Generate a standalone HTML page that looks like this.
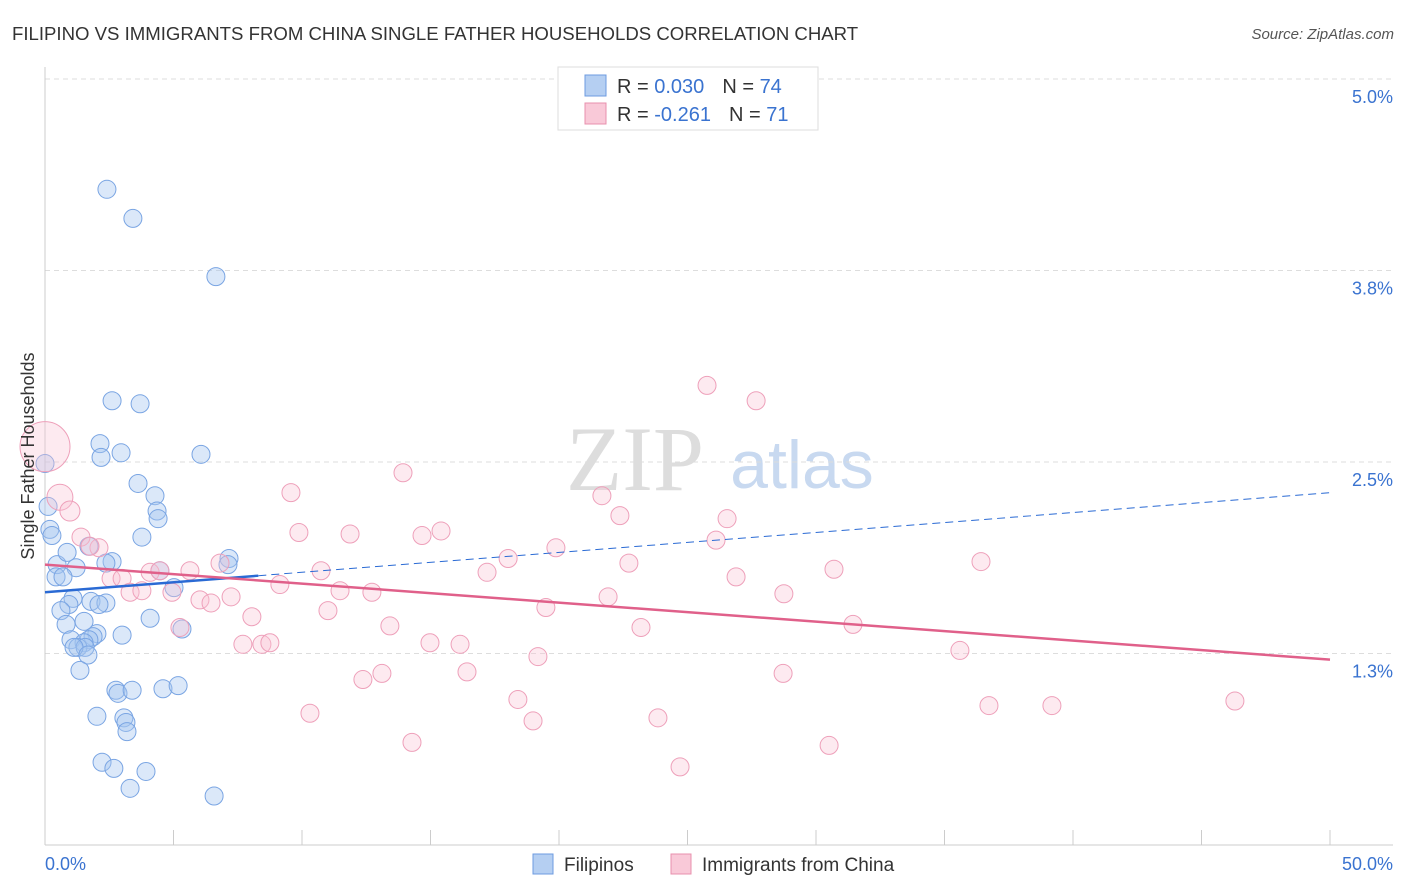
<!DOCTYPE html>
<html><head><meta charset="utf-8">
<style>
body{margin:0;background:#fff;font-family:"Liberation Sans",sans-serif;}
svg{display:block}
</style></head>
<body>
<svg id="c" width="1406" height="892" xmlns="http://www.w3.org/2000/svg">
<text x="12" y="40" font-size="18.6" fill="#333">FILIPINO VS IMMIGRANTS FROM CHINA SINGLE FATHER HOUSEHOLDS CORRELATION CHART</text>
<text x="1394" y="39" font-size="15" fill="#555" font-style="italic" text-anchor="end">Source: ZipAtlas.com</text>
<g>
<text x="635" y="490" font-size="92" fill="#ddd" font-family="Liberation Serif,serif" text-anchor="middle">ZIP</text>
<text x="802" y="488" font-size="68" fill="#c8d9f0" text-anchor="middle">atlas</text>
</g>
<g id="grid"></g>
<g id="axes"></g>
<g id="pts"></g>
<g id="lines"></g>
<text transform="translate(34,456) rotate(-90)" font-size="18" fill="#333" text-anchor="middle">Single Father Households</text>
<g>
<rect x="558" y="67" width="260" height="63" fill="#fff" stroke="#ddd"/>
<rect x="585" y="75" width="21" height="21" fill="#b5cff2" stroke="#6d9be0"/>
<rect x="585" y="103" width="21" height="21" fill="#f9c9d8" stroke="#e890ae"/>
<text x="617" y="93" font-size="20" fill="#333">R = <tspan fill="#3a73d0">0.030</tspan><tspan dx="18">N = </tspan><tspan fill="#3a73d0">74</tspan></text>
<text x="617" y="121" font-size="20" fill="#333">R = <tspan fill="#3a73d0">-0.261</tspan><tspan dx="18">N = </tspan><tspan fill="#3a73d0">71</tspan></text>
</g>
<g>
<rect x="533" y="854" width="20" height="20" fill="#b5cff2" stroke="#6d9be0"/>
<text x="564" y="871" font-size="19" fill="#333">Filipinos</text>
<rect x="671" y="854" width="20" height="20" fill="#f9c9d8" stroke="#e890ae"/>
<text x="702" y="871" font-size="19" fill="#333">Immigrants from China</text>
</g>
</svg>
<script>
const yTicks=[1.25,2.5,3.75,5.0];
const yTickLabels=["1.3%","2.5%","3.8%","5.0%"];
const xTickLabels=["0.0%","50.0%"];
const blueX=[2.41,3.42,6.65,2.61,3.70,2.14,2.96,2.18,6.07,0,3.62,4.28,4.36,4.40,0.12,0.19,0.27,3.77,0.47,0.86,1.71,7.16,7.12,2.61,2.37,1.21,0.43,0.70,5.02,1.09,0.93,0.62,1.79,2.37,2.10,4.09,1.52,0.82,2.02,1.87,3.00,1.01,1.71,1.52,1.28,1.56,1.13,1.67,5.33,1.36,2.76,2.84,3.39,4.59,5.18,2.02,3.07,3.15,3.19,2.22,2.68,3.93,3.31,6.58,4.47];
const blueY=[4.28,4.09,3.71,2.90,2.88,2.62,2.56,2.53,2.55,2.49,2.36,2.28,2.18,2.13,2.21,2.06,2.02,2.01,1.83,1.91,1.95,1.87,1.83,1.85,1.84,1.81,1.75,1.75,1.68,1.61,1.57,1.53,1.59,1.58,1.57,1.48,1.46,1.44,1.38,1.36,1.37,1.34,1.34,1.32,1.29,1.29,1.29,1.24,1.41,1.14,1.01,0.99,1.01,1.02,1.04,0.84,0.83,0.80,0.74,0.54,0.50,0.48,0.37,0.32,1.79];
const pinkX=[0,0.58,0.97,1.40,2.10,1.75,2.57,3.00,3.31,3.77,4.09,4.47,4.94,5.64,6.03,6.46,6.81,7.24,5.25,7.70,8.05,8.44,8.75,9.14,9.57,9.88,10.74,10.31,11.01,11.48,11.87,12.37,12.72,13.11,13.42,13.93,14.28,14.67,14.98,15.41,16.15,16.42,17.20,18.02,18.40,18.99,19.18,19.49,19.88,21.67,21.91,22.37,22.72,23.19,23.85,24.71,25.76,26.11,26.54,26.89,27.67,28.75,28.72,30.51,30.70,31.44,35.60,36.42,36.73,39.18,46.30];
const pinkY=[2.60,2.27,2.18,2.01,1.94,1.95,1.74,1.74,1.65,1.66,1.78,1.79,1.65,1.79,1.60,1.58,1.84,1.62,1.42,1.31,1.49,1.31,1.32,1.70,2.30,2.04,1.79,0.86,1.53,1.66,2.03,1.08,1.65,1.12,1.43,2.43,0.67,2.02,1.32,2.05,1.31,1.13,1.78,1.87,0.95,0.81,1.23,1.55,1.94,2.28,1.62,2.15,1.84,1.42,0.83,0.51,3.00,1.99,2.13,1.75,2.90,1.64,1.12,0.65,1.80,1.44,1.27,1.85,0.91,0.91,0.94];
const pinkR=[25,13,10];
const blueLine=[1.65,2.30];
const pinkLine=[1.83,1.21];
const NS="http://www.w3.org/2000/svg";
const X=v=>45+v/50*1285, Y=v=>845-v/5*766;
function mk(t,a,p){const e=document.createElementNS(NS,t);for(const k in a)e.setAttribute(k,a[k]);document.getElementById(p).appendChild(e);return e;}
yTicks.forEach((v,i)=>{
 const g=mk('line',{x1:45,x2:1393,y1:Y(v),y2:Y(v),stroke:'#ddd','stroke-dasharray':'5,4'},'grid');
 
 
 const t=mk('text',{x:1393,y:Y(v)+24,'font-size':18,fill:'#3a73d0','text-anchor':'end'},'axes');
 t.textContent=yTickLabels[i];
 
 
});
mk('line',{x1:45,x2:45,y1:67,y2:845,stroke:'#ccc'},'axes');
mk('line',{x1:45,x2:1393,y1:845,y2:845,stroke:'#ccc'},'axes');
for(let i=0;i<=10;i++){const e=mk('line',{x1:X(i*5),x2:X(i*5),y1:830,y2:845,stroke:'#ccc'},'axes');
 
 }
const xl0=mk('text',{x:45,y:870,'font-size':18,fill:'#3a73d0'},'axes');xl0.textContent=xTickLabels[0];


const xl1=mk('text',{x:1393,y:870,'font-size':18,fill:'#3a73d0','text-anchor':'end'},'axes');xl1.textContent=xTickLabels[1];


blueX.forEach((x,i)=>{const c=mk('circle',{cx:X(x),cy:Y(blueY[i]),r:9,fill:'rgba(165,198,240,0.4)',stroke:'#7aa5e3','stroke-width':1},'pts');
 
 });
pinkX.forEach((x,i)=>{const c=mk('circle',{cx:X(x),cy:Y(pinkY[i]),r:pinkR[i]||9,fill:'rgba(248,195,213,0.35)',stroke:'#eea0ba','stroke-width':1},'pts');
 
 });
const bAt=x=>blueLine[0]+(blueLine[1]-blueLine[0])*x/50, pAt=x=>pinkLine[0]+(pinkLine[1]-pinkLine[0])*x/50;
const b1=mk('line',{x1:X(0),y1:Y(bAt(0)),x2:X(8.3),y2:Y(bAt(8.3)),stroke:'#2a6ad4','stroke-width':2.5},'lines');


const b2=mk('line',{x1:X(8.3),y1:Y(bAt(8.3)),x2:X(50),y2:Y(bAt(50)),stroke:'#2a6ad4','stroke-width':1,'stroke-dasharray':'8,5'},'lines');


const p1=mk('line',{x1:X(0),y1:Y(pAt(0)),x2:X(50),y2:Y(pAt(50)),stroke:'#e0608a','stroke-width':2.5},'lines');


</script>
</body></html>
